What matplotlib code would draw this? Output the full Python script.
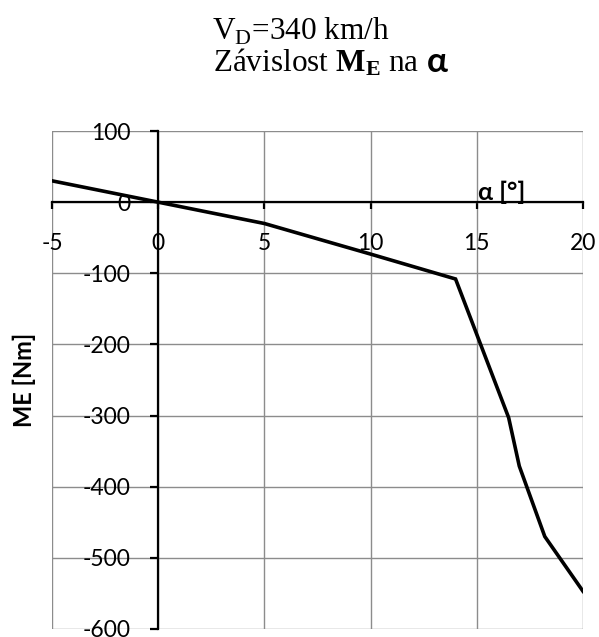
import numpy as np
import matplotlib.pyplot as plt

# Závislost momentu M_E na úhlu alfa pro V_D = 340 km/h
alfa = [-5, 0, 5, 10, 14, 16.5, 17, 18.2, 20]
moment = [30, 0, -30, -73, -108, -303, -371, -470, -547]

x_ticks = [-5, 0, 5, 10, 15, 20]
y_ticks = [100, 0, -100, -200, -300, -400, -500, -600]

plt.rcParams['mathtext.fontset'] = 'custom'
plt.rcParams['mathtext.rm'] = 'Liberation Serif'
plt.rcParams['mathtext.bf'] = 'Liberation Serif:bold'
plt.rcParams['axes.unicode_minus'] = False

fig = plt.figure(figsize=(5.99, 6.37), dpi=100)
ax = fig.add_axes([0.0868, 0.0126, 0.8865, 0.7817])

ax.plot(alfa, moment, color='black', linewidth=2.6, solid_joinstyle='miter', zorder=3)

ax.set_xlim(-5, 20)
ax.set_ylim(-600, 100)
ax.set_xticks(x_ticks)
ax.set_yticks(y_ticks)
ax.grid(True, color='#8c8c8c', linewidth=1.0)

# osy prochazi nulou
ax.spines['left'].set_position(('data', 0))
ax.spines['bottom'].set_position(('data', 0))
ax.spines['top'].set_visible(False)
ax.spines['right'].set_visible(False)
for s in ('left', 'bottom'):
    ax.spines[s].set_linewidth(1.6)
    ax.spines[s].set_zorder(2.5)

ax.tick_params(axis='x', direction='out', length=5, width=1.6, pad=17,
               labelsize=16.5, labelfontfamily='Lato')
ax.tick_params(axis='y', direction='out', length=6, width=1.6, pad=14,
               labelsize=16.5, labelfontfamily='Lato')

ax.set_ylabel("ME [Nm]", fontsize=17, fontweight='bold', family='Lato')
ax.yaxis.set_label_coords(-0.031, 0.5)
ax.text(0.847, 0.877, "α [°]", transform=ax.transAxes, fontsize=18,
        fontweight='bold', family='Lato', ha='center', va='center')

# titulek
fig.text(0.503, 0.938, r"V$_\mathrm{D}$=340 km/h", family='Liberation Serif',
         fontsize=22.5, ha='center', va='baseline')
t2 = fig.text(0.356, 0.887, r"Závislost $\mathbf{M_E}$ na", family='Liberation Serif',
              fontsize=22.5, ha='left', va='baseline')
fig.canvas.draw()
bb = t2.get_window_extent().transformed(fig.transFigure.inverted())
fig.text(bb.x1 + 0.013, 0.887, "α", family='Lato', fontweight='bold', fontsize=25,
         ha='left', va='baseline')

fig.savefig("out.png", dpi=100)
